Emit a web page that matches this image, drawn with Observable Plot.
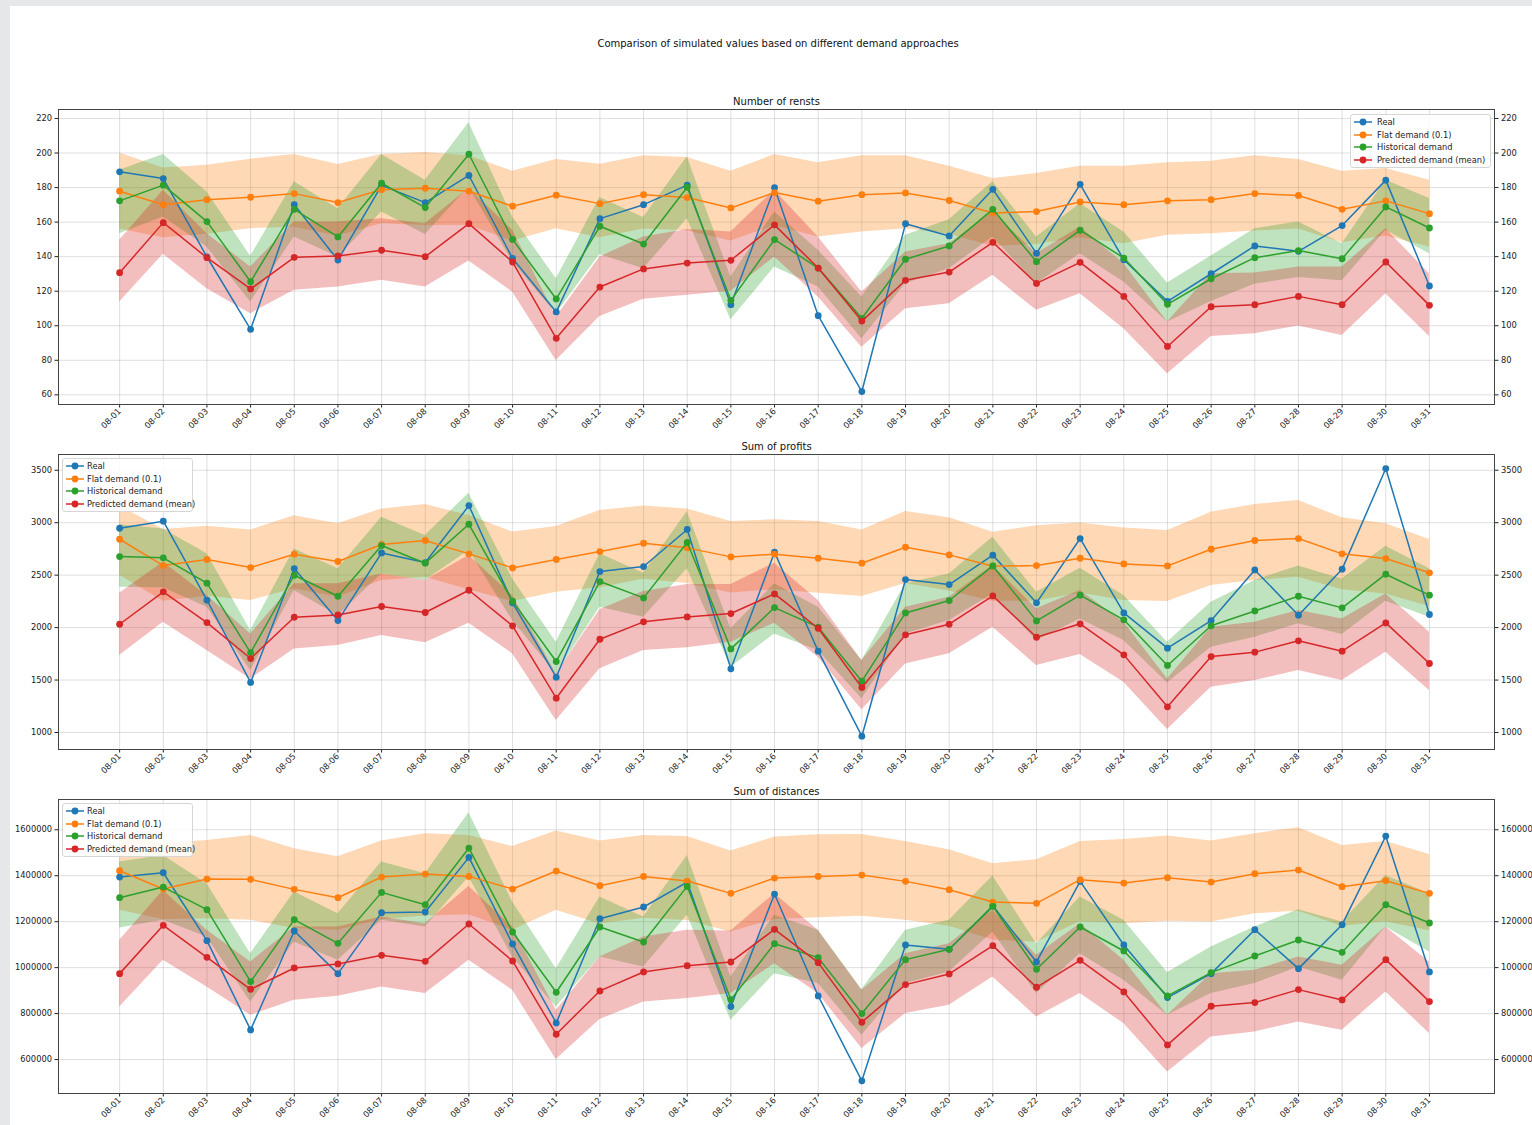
<!DOCTYPE html>
<html><head><meta charset="utf-8">
<script src="https://cdn.jsdelivr.net/npm/d3@7"></script>
<script src="https://cdn.jsdelivr.net/npm/@observablehq/plot@0.6"></script>
<style>
html,body{margin:0;padding:0;background:#e6e7e9;overflow:hidden;}
#page{position:relative;width:1532px;height:1125px;overflow:hidden;}
#sheet{position:absolute;left:10px;top:6px;width:1522px;height:1119px;background:#fff;}
#title{position:absolute;left:0;width:1556px;top:38px;text-align:center;font-family:"DejaVu Sans";font-size:10px;color:#111;}
.panel{position:absolute;left:0;}
.legend{position:absolute;background:rgba(255,255,255,0.85);border:1px solid #d6d6d6;border-radius:3px;box-sizing:border-box;font-family:"DejaVu Sans";font-size:8.3px;color:#222;}
.legend .row{position:absolute;left:0;height:12px;white-space:nowrap;}
.legend svg{position:absolute;left:2px;top:0;}
.legend span{position:absolute;top:0;line-height:12px;}
</style></head>
<body><div id="page"><div id="sheet"></div>
<div id="title">Comparison of simulated values based on different demand approaches</div>
</div>
<script>
const days = ["08-01","08-02","08-03","08-04","08-05","08-06","08-07","08-08","08-09","08-10","08-11","08-12","08-13","08-14","08-15","08-16","08-17","08-18","08-19","08-20","08-21","08-22","08-23","08-24","08-25","08-26","08-27","08-28","08-29","08-30","08-31"];
const seriesNames = ["Real","Flat demand (0.1)","Historical demand","Predicted demand (mean)"];
const seriesColors = ["#1f77b4","#ff7f0e","#2ca02c","#d62728"];
const panelTitles = ["Number of rensts","Sum of profits","Sum of distances"];

// Panel 1: Number of rents
const rentsTicks = [60,80,100,120,140,160,180,200,220];
const rentsReal = [189.1,185.2,139.8,97.9,170.1,138.0,181.3,171.3,187.0,139.0,108.0,162.0,170.1,181.4,112.2,180.0,105.8,61.9,159.1,152.0,179.0,141.9,181.9,138.2,114.1,130.1,146.2,143.1,158.0,184.3,123.0];
const rentsFlat = [177.9,170.1,173.0,174.4,176.5,171.3,178.8,179.6,177.9,169.2,175.6,170.7,175.9,174.2,168.2,177.1,172.1,175.9,176.9,172.5,165.3,166.1,171.7,170.1,172.3,173.0,176.5,175.4,167.4,172.3,164.9];
const rentsFlatHi = [200.0,191.4,192.9,196.4,199.1,193.3,199.1,200.3,198.4,189.5,196.2,193.5,198.4,197.4,189.5,199.1,194.3,198.4,198.4,192.4,185.2,188.1,192.4,192.4,194.3,195.3,198.4,196.2,189.5,191.0,184.2];
const rentsFlatLo = [156,151,153,156.2,157,152,159,158,158,149,156.2,151,156,155,149,158,151.4,154.3,156.2,153,146,147,151,147.5,152.4,153.3,154.9,156,148,152,145.6];
const rentsHist = [172.3,181.4,160.3,125.5,167.4,151.4,182.5,168.4,199.3,150.0,115.5,157.6,147.3,180.2,114.7,149.9,133.4,104.3,138.5,146.2,167.4,137.1,155.3,139.2,112.4,127.2,139.4,143.5,138.8,168.8,156.6];
const rentsHistHi = [190,199.1,177.5,140.2,183.3,167.8,199.1,184.2,217.5,163,127.2,174.2,162.6,197.8,128.2,165.9,143.7,116.6,152.4,161.4,183.3,151.4,170.7,154.3,124.7,140.4,156.2,160.1,147.5,184.2,173.6];
const rentsHistLo = [153.3,163,145.6,113.7,151.4,139.8,165.9,152.8,180.4,137,107,141.2,133,162,103.5,134,122.4,92.5,124.3,133,151.4,124.3,141.7,125.3,102.1,114,124,128,126,155.3,141.7];
const rentsPred = [130.7,159.7,139.4,121.3,139.6,140.4,143.7,140.0,159.1,136.9,92.7,122.4,132.9,136.3,137.9,158.4,133.4,102.7,126.3,131.1,148.3,124.5,136.7,117.0,88.0,111.0,112.2,117.0,112.2,136.9,111.8];
const rentsPredHi = [149.5,178.5,153.3,134,160.1,160.1,162,159.1,179.4,155.3,105,139.8,151.4,155.7,154.3,178.5,151.4,119.5,142.7,147.5,165.9,141.7,157.2,136,102.1,130.1,130.5,134,134,156.2,130.1];
const rentsPredLo = [113.7,141.4,121.4,107,120.5,122.4,126.3,122.4,137.5,119.5,79.9,105.4,115.3,117.6,119.9,139.8,116.6,87.6,109.9,112.8,129.2,108.9,118.5,98.3,72.2,93.8,95.4,99.8,94.4,118.5,93.8];

// Panel 2: Sum of profits
const profitsTicks = [1000,1500,2000,2500,3000,3500];
const profitsReal = [2947,3014,2261,1477,2563,2067,2712,2620,3163,2236,1527,2534,2582,2935,1607,2719,1775,965,2458,2410,2690,2236,2849,2140,1804,2067,2550,2118,2557,3516,2125];
const profitsFlat = [2842,2591,2649,2572,2700,2630,2792,2830,2703,2569,2649,2725,2804,2760,2674,2700,2661,2614,2766,2693,2585,2591,2661,2607,2588,2747,2830,2849,2703,2658,2522];
const profitsFlatHi = [3160,2935,2966,2931,3065,2989,3131,3173,3068,2912,2963,3116,3160,3131,3011,3027,3011,2931,3106,3046,2909,2970,2998,2950,2925,3100,3173,3211,3046,2989,2839];
const profitsFlatLo = [2500,2250,2300,2258,2370,2290,2450,2480,2360,2248,2337,2380,2460,2420,2330,2360,2328,2296,2420,2350,2250,2250,2330,2258,2248,2401,2449,2480,2360,2320,2200];
const profitsHist = [2677,2665,2423,1762,2499,2299,2782,2614,2985,2252,1677,2439,2283,2811,1797,2191,2004,1489,2140,2258,2588,2064,2309,2074,1639,2017,2159,2299,2188,2509,2309];
const profitsHistHi = [2980,2940,2703,1972,2750,2560,3052,2877,3281,2464,1861,2703,2518,3106,1988,2417,2194,1686,2417,2512,2861,2337,2566,2306,1861,2242,2449,2588,2464,2776,2560];
const profitsHistLo = [2385,2380,2194,1591,2353,2115,2512,2449,2734,2067,1559,2194,2099,2560,1623,1940,1781,1321,1940,2067,2321,1877,2083,1877,1473,1813,1908,2036,1934,2250,2099];
const profitsPred = [2032,2341,2048,1705,2099,2121,2201,2144,2356,2017,1327,1889,2055,2102,2134,2321,1994,1429,1931,2032,2302,1908,2036,1740,1245,1724,1766,1874,1775,2045,1658];
const profitsPredHi = [2328,2623,2306,1940,2417,2417,2512,2449,2687,2306,1559,2169,2344,2410,2410,2614,2258,1686,2194,2290,2592,2179,2353,2051,1511,2004,2051,2163,2083,2321,1956];
const profitsPredLo = [1734,2051,1781,1511,1797,1829,1924,1855,2042,1750,1114,1607,1781,1807,1861,2042,1718,1216,1654,1750,2004,1639,1743,1480,1029,1432,1495,1591,1495,1766,1400];

// Panel 3: Sum of distances
const distTicks = [600000,800000,1000000,1200000,1400000,1600000];
const distReal = [1394200,1413000,1117400,729000,1159400,973900,1239100,1242000,1479700,1102900,759400,1213000,1263800,1372500,830400,1320300,876800,507300,1098500,1079700,1269600,1024600,1375400,1098500,869600,973900,1165200,995600,1186900,1572500,981200];
const distFlat = [1421700,1342000,1385500,1384100,1340600,1304300,1394200,1407200,1397100,1342000,1420300,1356500,1397100,1376800,1323200,1389900,1397100,1402900,1375400,1339100,1285500,1279700,1382600,1368100,1391300,1372500,1408700,1424600,1352200,1378300,1323200];
const distFlatHi = [1568000,1540000,1553600,1575400,1517400,1482600,1550700,1582600,1575400,1527500,1594200,1550700,1575400,1571000,1507200,1568100,1578300,1579700,1549300,1513000,1452200,1469600,1549300,1558000,1572500,1550700,1582600,1608700,1531900,1549300,1492800];
const distFlatLo = [1249300,1210000,1213000,1205800,1170000,1162300,1210000,1225000,1230000,1162300,1249300,1190000,1215000,1205000,1155100,1210000,1217400,1223200,1205800,1180000,1120000,1110000,1200000,1191300,1201400,1198600,1234800,1245000,1180000,1200000,1160000];
const distHist = [1304300,1350700,1252200,939100,1208700,1105800,1327500,1273900,1520300,1155100,892700,1176800,1111600,1353600,860900,1104300,1043500,800000,1034800,1079700,1266700,992800,1176800,1072500,876800,978300,1050700,1120300,1066700,1273900,1194200];
const distHistHi = [1459400,1488400,1365200,1060900,1328900,1234800,1459400,1408700,1673900,1285500,995600,1307300,1220300,1488400,959400,1227500,1162300,904300,1162300,1205800,1398500,1104300,1307300,1205800,978300,1089800,1176800,1252200,1198600,1401400,1321700];
const distHistLo = [1172000,1205800,1133300,850700,1111600,1031900,1205800,1176800,1394200,1046400,829000,1046400,1002900,1227500,771000,973900,930400,705800,930400,981200,1155100,887000,1060900,944900,792700,887000,930400,1002900,944900,1176800,1068100];
const distPred = [973900,1184100,1044900,905800,998500,1015900,1053600,1027500,1189800,1028900,710100,898600,981200,1008700,1024600,1166700,1021700,762300,926100,972500,1095600,914500,1031900,894200,663800,831900,847800,904300,859400,1034800,852200];
const distPredHi = [1118800,1336200,1162300,1024600,1176800,1176800,1220300,1191300,1353600,1176800,814500,1046400,1133300,1162300,1159400,1321700,1162300,901400,1060900,1104300,1249300,1053600,1191300,1031900,792700,973900,988400,1046400,1010000,1176800,1024600];
const distPredLo = [829000,1031900,915900,792700,858000,875400,915900,887000,1031900,901400,600000,773900,850700,865200,887000,1017400,887000,647800,800000,836200,959400,785500,887000,756500,546300,698500,720300,763800,727500,894200,713000];

const page = document.getElementById("page");
const idx = d3.range(days.length);

function panel(cfg) {
  const [cReal, cFlat, cHist, cPred] = seriesColors;
  const bands = [[cfg.flatLo, cfg.flatHi, cFlat],[cfg.histLo, cfg.histHi, cHist],[cfg.predLo, cfg.predHi, cPred]];
  const lines = [[cfg.real, cReal],[cfg.flat, cFlat],[cfg.hist, cHist],[cfg.pred, cPred]];
  const marks = [
    Plot.ruleY(cfg.ticks, {stroke: "#b0b0b0", strokeOpacity: 0.5, strokeWidth: 0.8}),
    Plot.ruleX(idx, {stroke: "#b0b0b0", strokeOpacity: 0.5, strokeWidth: 0.8}),
    ...bands.map(([lo, hi, c]) => Plot.areaY(idx, {x: i => i, y1: i => lo[i], y2: i => hi[i], fill: c, fillOpacity: 0.3})),
    ...lines.flatMap(([v, c]) => [
      Plot.line(idx, {x: i => i, y: i => v[i], stroke: c, strokeWidth: 1.5}),
      Plot.dot(idx, {x: i => i, y: i => v[i], r: 3.4, fill: c, stroke: "none"})
    ]),
    Plot.frame({stroke: "#444", strokeWidth: 1}),
    Plot.text([cfg.title], {frameAnchor: "top", lineAnchor: "middle", dy: -8, fontSize: 10, fill: "#111", text: d => d})
  ];
  const svg = Plot.plot({
    width: 1532, height: cfg.height,
    marginLeft: 58, marginRight: 38, marginTop: 24, marginBottom: 40,
    style: {fontFamily: "DejaVu Sans", fontSize: "8.3px", color: "#222", background: "transparent", overflow: "visible", maxWidth: "none"},
    x: {type: "linear", domain: [-1.4, 31.49], ticks: idx, tickFormat: i => days[i], tickRotate: -45, label: null, tickSize: 3.5, tickPadding: 2},
    y: {domain: cfg.domain, ticks: cfg.ticks, tickFormat: d3.format("d"), axis: "both", label: null, tickSize: 3.5, tickPadding: 3},
    marks
  });
  const wrap = document.createElement("div");
  wrap.className = "panel";
  wrap.style.top = cfg.top + "px";
  wrap.appendChild(svg);
  page.appendChild(wrap);
}

function legend(left, top, width, textLeft) {
  const div = document.createElement("div");
  div.className = "legend";
  div.style.left = left + "px"; div.style.top = top + "px";
  div.style.width = width + "px"; div.style.height = "54px";
  seriesNames.forEach((name, k) => {
    const row = document.createElement("div");
    row.className = "row";
    row.style.top = (1 + k * 12.7) + "px";
    row.style.width = width + "px";
    const c = seriesColors[k];
    row.innerHTML = `<svg width="20" height="12"><line x1="1" x2="19" y1="6" y2="6" stroke="${c}" stroke-width="1.5"/><circle cx="10" cy="6" r="3.4" fill="${c}"/></svg><span style="left:${textLeft}px">${name}</span>`;
    div.appendChild(row);
  });
  page.appendChild(div);
}

panel({top: 85, height: 359, title: panelTitles[0], domain: [54.4, 225.2], ticks: rentsTicks,
  real: rentsReal, flat: rentsFlat, flatLo: rentsFlatLo, flatHi: rentsFlatHi,
  hist: rentsHist, histLo: rentsHistLo, histHi: rentsHistHi, pred: rentsPred, predLo: rentsPredLo, predHi: rentsPredHi});
panel({top: 430, height: 359, title: panelTitles[1], domain: [838, 3650], ticks: profitsTicks,
  real: profitsReal, flat: profitsFlat, flatLo: profitsFlatLo, flatHi: profitsFlatHi,
  hist: profitsHist, histLo: profitsHistLo, histHi: profitsHistHi, pred: profitsPred, predLo: profitsPredLo, predHi: profitsPredHi});
panel({top: 775, height: 358, title: panelTitles[2], domain: [452200, 1731700], ticks: distTicks,
  real: distReal, flat: distFlat, flatLo: distFlatLo, flatHi: distFlatHi,
  hist: distHist, histLo: distHistLo, histHi: distHistHi, pred: distPred, predLo: distPredLo, predHi: distPredHi});

legend(1350, 114, 141, 26);
legend(62, 458, 131, 24);
legend(62, 803, 131, 24);
</script>
</body></html>
